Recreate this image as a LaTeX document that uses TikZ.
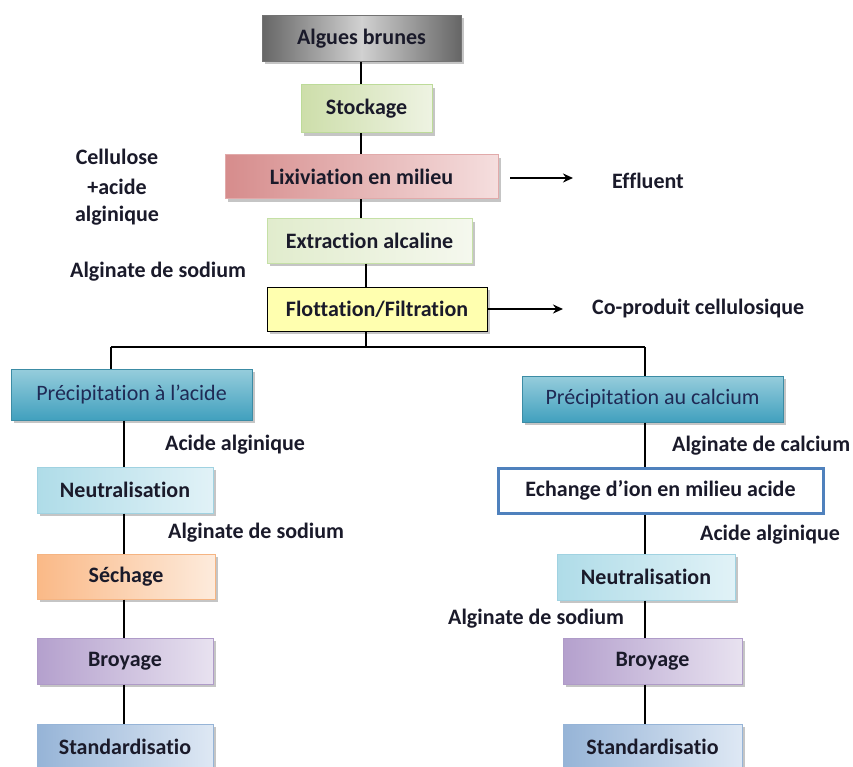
\documentclass[tikz,border=0pt]{standalone}
\usepackage{fontspec}
\setmainfont{Carlito}[Ligatures={NoCommon}]
\usetikzlibrary{shadows,arrows.meta,calc}
\definecolor{txt}{HTML}{1A1A2A}
\definecolor{ptxt}{HTML}{1F2A55}
\tikzset{
  box/.style={draw, line width=1pt, minimum height=46pt, inner sep=0pt, font=\bfseries\fontsize{22}{24}\selectfont, text=txt,
    drop shadow={shadow xshift=3pt, shadow yshift=-3pt, fill=black!45, opacity=0.5}},
  lbl/.style={font=\bfseries\fontsize{22}{24}\selectfont, text=txt, inner sep=0pt},
  link/.style={line width=2pt, black},
  arr/.style={line width=2pt, black, -{Stealth[length=10pt,width=9pt]}},
  graybox/.style={box, draw=black!55, left color=black!60, right color=black!60, middle color=black!18},
  greenbox/.style={box, draw=green!30!olive!40, left color={rgb,255:red,205;green,222;blue,170}, right color={rgb,255:red,238;green,243;blue,226}},
  lgreenbox/.style={box, draw=green!30!olive!35, left color={rgb,255:red,225;green,236;blue,205}, right color={rgb,255:red,245;green,248;blue,238}},
  pinkbox/.style={box, draw={rgb,255:red,225;green,170;blue,170}, left color={rgb,255:red,214;green,140;blue,140}, right color={rgb,255:red,245;green,222;blue,222}},
  yellowbox/.style={box, draw=black, fill={rgb,255:red,255;green,255;blue,175}},
  tealbox/.style={box, draw={rgb,255:red,60;green,140;blue,165}, font=\fontsize{22}{24}\selectfont, text=ptxt, top color={rgb,255:red,150;green,205;blue,220}, bottom color={rgb,255:red,65;green,160;blue,190}},
  lteal/.style={box, draw={rgb,255:red,160;green,210;blue,225}, left color={rgb,255:red,175;green,220;blue,232}, right color={rgb,255:red,225;green,242;blue,247}},
  orangebox/.style={box, draw={rgb,255:red,245;green,180;blue,130}, left color={rgb,255:red,250;green,185;blue,135}, right color={rgb,255:red,253;green,235;blue,220}},
  purplebox/.style={box, draw={rgb,255:red,175;green,155;blue,200}, left color={rgb,255:red,180;green,160;blue,205}, right color={rgb,255:red,232;green,226;blue,240}},
  bluebox/.style={box, draw={rgb,255:red,150;green,180;blue,215}, left color={rgb,255:red,150;green,180;blue,215}, right color={rgb,255:red,222;green,232;blue,244}},
  whitebox/.style={draw={rgb,255:red,79;green,129;blue,189}, line width=3pt, fill=white, minimum height=45pt, inner sep=0pt, font=\bfseries\fontsize{22}{24}\selectfont, text=txt}
}
\begin{document}
\begin{tikzpicture}[x=1pt,y=-1pt]
\useasboundingbox (0,0) rectangle (853,767);
\clip (0,0) rectangle (853,767);
\fill[white] (0,0) rectangle (853,767);
% top chain
\node[graybox, minimum width=199pt] (alg) at (361.5,38.5) {Algues brunes};
\node[greenbox, minimum width=131pt, minimum height=48pt] (sto) at (366.5,109) {Stockage};
\node[pinkbox, minimum width=273pt, minimum height=44pt] (lix) at (361.5,177) {Lixiviation en milieu};
\node[lgreenbox, minimum width=205pt, minimum height=44pt] (ext) at (369.5,241) {Extraction alcaline};
\node[yellowbox, minimum width=220pt, minimum height=44pt] (flo) at (377,309) {Flottation/Filtration};
\coordinate (sp1) at (361,0);
\coordinate (sp2) at (366,0);
\draw[link] (alg.south -| sp1) -- (sto.north -| sp1);
\draw[link] (sto.south -| sp1) -- (lix.north -| sp1);
\draw[link] (lix.south -| sp1) -- (ext.north -| sp1);
\draw[link] (ext.south -| sp2) -- (flo.north -| sp2);
% side labels
\node[lbl] (cel1) at (117,157) {Cellulose};
\node[lbl] (cel2) at (117,187) {+acide};
\node[lbl] (cel3) at (117,216) {alginique};
\node[lbl, anchor=west] (algs) at (70,272) {Alginate de sodium};
\node[lbl, anchor=west] (eff) at (612,181) {Effluent};
\node[lbl, anchor=west] (cop) at (592,309) {Co-produit cellulosique};
\coordinate (effa) at (510,178);
\coordinate (effb) at (573,178);
\draw[arr] (effa) -- (effb);
\coordinate (copb) at (563,309);
\draw[arr] (flo.east) -- (copb);
% branches
\coordinate (hl) at (111,347);
\coordinate (hr) at (645,347);
\draw[link] (flo.south -| sp2) -- (sp2 |- hl);
\draw[link] (hl) -- (hr);
% left chain
\node[tealbox, minimum width=241pt, minimum height=51pt] (pa) at (131.5,394.5) {Précipitation à l’acide};
\node[lteal, minimum width=176pt] (neuL) at (125,490) {Neutralisation};
\node[orangebox, minimum width=178pt, minimum height=45pt] (sec) at (126,576.5) {Séchage};
\node[purplebox, minimum width=176pt] (broL) at (125,661) {Broyage};
\node[bluebox, minimum width=176pt] (stdL) at (125,747) {Standardisatio};
\coordinate (lx) at (124,0);
\draw[link] (hl) -- (hl |- pa.north);
\draw[link] (pa.south -| lx) -- (neuL.north -| lx);
\draw[link] (neuL.south -| lx) -- (sec.north -| lx);
\draw[link] (sec.south -| lx) -- (broL.north -| lx);
\draw[link] (broL.south -| lx) -- (stdL.north -| lx);
\node[lbl, anchor=west] (aa1) at (165,445) {Acide alginique};
\node[lbl, anchor=west] (as1) at (168,533) {Alginate de sodium};
% right chain
\node[tealbox, minimum width=261pt] (pc) at (652.5,399) {Précipitation au calcium};
\node[whitebox, minimum width=325pt] (ech) at (660.5,490.5) {Echange d’ion en milieu acide};
\node[lteal, minimum width=178pt] (neuR) at (646,577) {Neutralisation};
\node[purplebox, minimum width=179pt] (broR) at (652.5,661) {Broyage};
\node[bluebox, minimum width=179pt] (stdR) at (652.5,747) {Standardisatio};
\draw[link] (hr) -- (hr |- pc.north);
\draw[link] (pc.south -| hr) -- (ech.north -| hr);
\draw[link] (ech.south -| hr) -- (neuR.north -| hr);
\draw[link] (neuR.south -| hr) -- (broR.north -| hr);
\draw[link] (broR.south -| hr) -- (stdR.north -| hr);
\node[lbl, anchor=west] (ac2) at (672,446) {Alginate de calcium};
\node[lbl, anchor=west] (aa2) at (700,535) {Acide alginique};
\node[lbl, anchor=west] (as2) at (448,619) {Alginate de sodium};
\end{tikzpicture}
\end{document}
